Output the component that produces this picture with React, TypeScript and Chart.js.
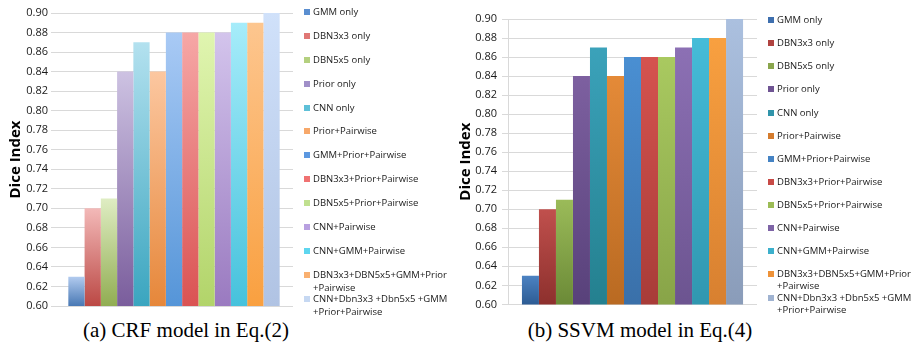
import React, { useEffect, useRef } from 'react';
import { Chart, registerables } from 'chart.js';

Chart.register(...registerables);

// ---------- data ----------
const seriesNames = [
  'GMM only',
  'DBN3x3 only',
  'DBN5x5 only',
  'Prior only',
  'CNN only',
  'Prior+Pairwise',
  'GMM+Prior+Pairwise',
  'DBN3x3+Prior+Pairwise',
  'DBN5x5+Prior+Pairwise',
  'CNN+Pairwise',
  'CNN+GMM+Pairwise',
  'DBN3x3+DBN5x5+GMM+Prior\n+Pairwise',
  'CNN+Dbn3x3 +Dbn5x5 +GMM\n+Prior+Pairwise',
];
const crfValues = [0.63, 0.70, 0.71, 0.84, 0.87, 0.84, 0.88, 0.88, 0.88, 0.88, 0.89, 0.89, 0.90];
const ssvmValues = [0.63, 0.70, 0.71, 0.84, 0.87, 0.84, 0.86, 0.86, 0.86, 0.87, 0.88, 0.88, 0.90];
const yMin = 0.6;
const yMax = 0.9;
const yStep = 0.02;
const yTitle = 'Dice Index';
const captionA = '(a) CRF model in Eq.(2)';
const captionB = '(b) SSVM model in Eq.(4)';

// ---------- colours (top / bottom of gradient, legend swatch) ----------
const crfTop = ['#b2cbef', '#f3b9b8', '#dfedc3', '#cdc2e2', '#b3e1ef', '#fcc7a0', '#a9caf5', '#f6a7a6', '#e0f5b0', '#d3c4ec', '#a6ecfa', '#fdc68f', '#d0e1fa'];
const crfBottom = ['#4878b4', '#bb4844', '#91ad52', '#7a5d9c', '#3aa5bf', '#e6873a', '#5595d8', '#da5353', '#b2d46a', '#9a7ac0', '#46c2dc', '#f9a040', '#b0c3e3'];
const crfSwatch = ['#5a8ed0', '#e07775', '#b4d07f', '#a08fc8', '#5ec0d8', '#f7a86a', '#5c98e0', '#f07272', '#c0e08f', '#b8a0e0', '#5ed6ef', '#f9b070', '#c6d8f2'];
const ssvmTop = ['#4c82c2', '#c0504d', '#9bbb59', '#7d60a0', '#3ba2ba', '#e48a38', '#4a8fd2', '#d5534f', '#a9c960', '#8c70b4', '#45bcd8', '#f8a040', '#abc0df'];
const ssvmBottom = ['#2d5c94', '#8d302d', '#6b8a37', '#58417a', '#24808f', '#b96a22', '#3a70a9', '#a83c38', '#88a448', '#6c5490', '#3097b0', '#d88030', '#8a9cb9'];
const ssvmSwatch = ['#3e6fae', '#b04340', '#8aa64d', '#6f5493', '#3094aa', '#d57c2e', '#4583c4', '#c84a46', '#9cbc56', '#7e64a6', '#3cb0cc', '#ee9238', '#a0b3d1'];

type Cfg = {
  values: number[];
  tops: string[];
  bottoms: string[];
  swatches: string[];
  width: number;
  height: number;
  axisWidth: number;
  pad: { top: number; right: number; bottom: number };
  tickLength: number;
  tickPad: number;
  titlePad: number;
  border: boolean;
  legend: { boxGap: number; textGap: number; offsetY: number; div: number; lineGap: number };
};

const sideLegend = {
  id: 'sideLegend',
  afterDraw(chart: any, _args: any, opts: any) {
    const { ctx, chartArea } = chart;
    if (!chartArea) return;
    const step = (chartArea.bottom - chartArea.top) / opts.div;
    ctx.save();
    ctx.font = '9.5px "Open Sans"';
    ctx.textBaseline = 'middle';
    ctx.textAlign = 'left';
    chart.data.datasets.forEach((ds: any, i: number) => {
      const y = Math.round(chartArea.top + opts.offsetY + i * step);
      const x = chartArea.right + opts.boxGap;
      ctx.fillStyle = ds.swatch;
      ctx.fillRect(x, y - 3, 6, 6);
      ctx.fillStyle = '#1a1a1a';
      String(ds.label)
        .split('\n')
        .forEach((line: string, k: number) => ctx.fillText(line, x + opts.textGap, y + k * opts.lineGap));
    });
    ctx.restore();
  },
};

function BarChart({ cfg }: { cfg: Cfg }) {
  const ref = useRef<HTMLCanvasElement | null>(null);
  useEffect(() => {
    if (!ref.current) return;
    const datasets = seriesNames.map((name, i) => ({
      label: name,
      data: [cfg.values[i]],
      swatch: cfg.swatches[i],
      borderWidth: 0,
      backgroundColor: (c: any) => {
        const chart = c.chart;
        const ys = chart.scales && chart.scales.y;
        const v = c.raw;
        if (!chart.chartArea || !ys || typeof v !== 'number') return cfg.tops[i];
        const yTop = ys.getPixelForValue(v);
        const yBot = ys.getPixelForValue(yMin);
        const g = chart.ctx.createLinearGradient(0, yTop, 0, yBot);
        g.addColorStop(0, cfg.tops[i]);
        g.addColorStop(1, cfg.bottoms[i]);
        return g;
      },
    }));
    const chart = new Chart(ref.current, {
      type: 'bar',
      data: { labels: [''], datasets: datasets as any },
      options: {
        animation: false,
        responsive: false,
        devicePixelRatio: 1,
        layout: { padding: { left: 0, top: cfg.pad.top, right: cfg.pad.right, bottom: cfg.pad.bottom } },
        datasets: { bar: { categoryPercentage: 0.888, barPercentage: 1 } },
        plugins: {
          legend: { display: false },
          tooltip: { enabled: false },
          sideLegend: cfg.legend,
        } as any,
        scales: {
          x: { display: false },
          y: {
            min: yMin,
            max: yMax,
            afterFit: (scale: any) => {
              scale.width = cfg.axisWidth;
            },
            ticks: {
              stepSize: yStep,
              padding: cfg.tickPad,
              color: '#1a1a1a',
              font: { family: 'Open Sans', size: 11 },
              callback: (v: any) => Number(v).toFixed(2),
            },
            grid: { color: '#d9d9d9', lineWidth: 1, tickLength: cfg.tickLength, drawTicks: true },
            border: { display: cfg.border, color: '#d9d9d9' },
            title: {
              display: true,
              text: yTitle,
              color: '#000',
              font: { family: 'Open Sans', size: 15, weight: 'bold' },
              padding: { top: cfg.titlePad, bottom: 0 },
            },
          },
        },
      },
      plugins: [sideLegend],
    });
    return () => chart.destroy();
  }, []);
  return <canvas ref={ref} width={cfg.width} height={cfg.height} style={{ width: cfg.width, height: cfg.height, display: 'block' }} />;
}

const crfCfg: Cfg = {
  values: crfValues,
  tops: crfTop,
  bottoms: crfBottom,
  swatches: crfSwatch,
  width: 455,
  height: 316,
  axisWidth: 55,
  pad: { top: 13, right: 162, bottom: 10 },
  tickLength: 4,
  tickPad: 3,
  titlePad: 7,
  border: false,
  legend: { boxGap: 11, textGap: 9, offsetY: -1, div: 12.26, lineGap: 13 },
};

const ssvmCfg: Cfg = {
  values: ssvmValues,
  tops: ssvmTop,
  bottoms: ssvmBottom,
  swatches: ssvmSwatch,
  width: 457,
  height: 316,
  axisWidth: 53,
  pad: { top: 19, right: 155, bottom: 10 },
  tickLength: 6,
  tickPad: 5,
  titlePad: 2,
  border: true,
  legend: { boxGap: 11, textGap: 9, offsetY: 1, div: 12.34, lineGap: 12 },
};

export default function App() {
  const caption: React.CSSProperties = {
    position: 'absolute',
    top: 317,
    fontFamily: '"Liberation Serif", serif',
    fontSize: 21,
    lineHeight: '27px',
    textAlign: 'center',
    color: '#000',
    whiteSpace: 'nowrap',
  };
  return (
    <div style={{ position: 'fixed', left: 0, top: 0, width: 912, height: 354, background: '#fff', overflow: 'hidden' }}>
      <div style={{ position: 'absolute', left: 0, top: 0 }}>
        <BarChart cfg={crfCfg} />
      </div>
      <div style={{ position: 'absolute', left: 455, top: 0 }}>
        <BarChart cfg={ssvmCfg} />
      </div>
      <div style={{ ...caption, left: 0, width: 372 }}>{captionA}</div>
      <div style={{ ...caption, left: 455, width: 370 }}>{captionB}</div>
    </div>
  );
}
